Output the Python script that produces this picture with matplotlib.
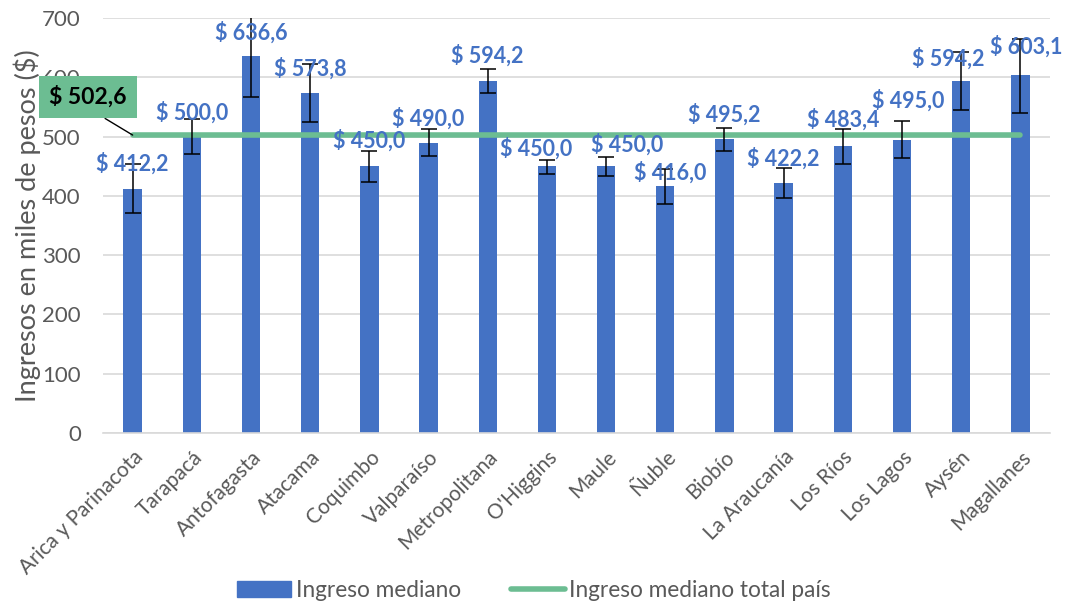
import matplotlib
matplotlib.use("Agg")
import matplotlib.pyplot as plt
import numpy as np
from matplotlib.patches import Patch
from matplotlib.lines import Line2D

plt.rcParams['font.family'] = ['Lato', 'DejaVu Sans']

regiones = ['Arica y Parinacota', 'Tarapacá', 'Antofagasta', 'Atacama', 'Coquimbo',
            'Valparaíso', 'Metropolitana', "O'Higgins", 'Maule', 'Ñuble', 'Biobío',
            'La Araucanía', 'Los Ríos', 'Los Lagos', 'Aysén', 'Magallanes']
ingreso = [412.2, 500.0, 636.6, 573.8, 450.0, 490.0, 594.2, 450.0,
           450.0, 416.0, 495.2, 422.2, 483.4, 495.0, 594.2, 603.1]
err_inf = [41, 30, 70, 49, 27, 23, 21, 13, 16, 30, 20, 25, 30, 31, 50, 64]
err_sup = [41, 29, 70, 48, 26, 23, 19, 11, 15, 30, 19, 24, 29, 31, 48, 61]
total_pais = 502.6

# label placement (x shift in category units, y in pesos) - set by hand to mimic the original
lab_dx = [0, 0, 0, 0, 0, 0, 0, -0.18, 0.35, 0.08, 0, 0, 0, 0.1, -0.22, 0.1]
lab_y = [454, 541, 676, 614, 494, 531, 636, 479, 487, 440, 538, 463, 528, 560, 632, 652]

azul = '#4472C4'
verde = '#6CBD92'
gris = '#595959'

fig = plt.figure(figsize=(10.7, 6.01), dpi=100)
ax = fig.add_axes([0.0963, 0.2795, 0.885, 0.6905])

x = np.arange(len(regiones))
ax.bar(x, ingreso, width=0.31, color=azul, zorder=2)
ax.errorbar(x, ingreso, yerr=[err_inf, err_sup], fmt='none', ecolor='black',
            elinewidth=1.1, capsize=6, capthick=1.1, zorder=4)
ax.plot([x[0], x[-1]], [total_pais, total_pais], color=verde, lw=4,
        solid_capstyle='round', zorder=3)

for i, v in enumerate(ingreso):
    ax.text(x[i] + lab_dx[i], lab_y[i], '$ ' + f'{v:.1f}'.replace('.', ','),
            ha='center', va='center', color=azul, fontsize=15.5,
            fontweight='bold', zorder=5)

# callout box for country total
ax.annotate('$ 502,6', xy=(x[0], total_pais), xytext=(88, 504),
            textcoords='figure pixels', fontsize=16.5, fontweight='bold',
            color='black', ha='center', va='center',
            bbox=dict(boxstyle='square,pad=0.45', fc=verde, ec='none'),
            arrowprops=dict(arrowstyle='-', color='black', lw=1,
                            shrinkA=0, shrinkB=0,
                            relpos=(0.5, 0)),
            zorder=6, annotation_clip=False)

ax.set_xlim(-0.5, len(regiones) - 0.5)
ax.set_ylim(0, 700)
ax.set_yticks(range(0, 701, 100))
ax.yaxis.grid(True, color='#D9D9D9', lw=1.2)
ax.set_axisbelow(True)
for s in ['top', 'right', 'left']:
    ax.spines[s].set_visible(False)
ax.spines['bottom'].set_color('#D9D9D9')
ax.spines['bottom'].set_linewidth(1.2)
ax.tick_params(axis='both', length=0, colors=gris)
ax.tick_params(axis='y', labelsize=16, pad=16)
ax.set_xticks(x)
ax.set_xticklabels(regiones, rotation=45, ha='right', rotation_mode='anchor',
                   fontsize=15, color=gris)
ax.tick_params(axis='x', pad=10)
ax.set_ylabel('Ingresos en miles de pesos ($)', fontsize=19.5, color=gris, labelpad=1)

handles = [Patch(color=azul), Line2D([0], [0], color=verde, lw=4, solid_capstyle='round')]
fig.legend(handles, ['Ingreso mediano', 'Ingreso mediano total país'],
           loc='center', bbox_to_anchor=(0.499, 0.018), ncol=2, frameon=False,
           fontsize=16.3, handlelength=2.4, handleheight=0.7, columnspacing=2.2,
           handletextpad=0.2, labelcolor=gris)

plt.savefig('out.png', dpi=100)
